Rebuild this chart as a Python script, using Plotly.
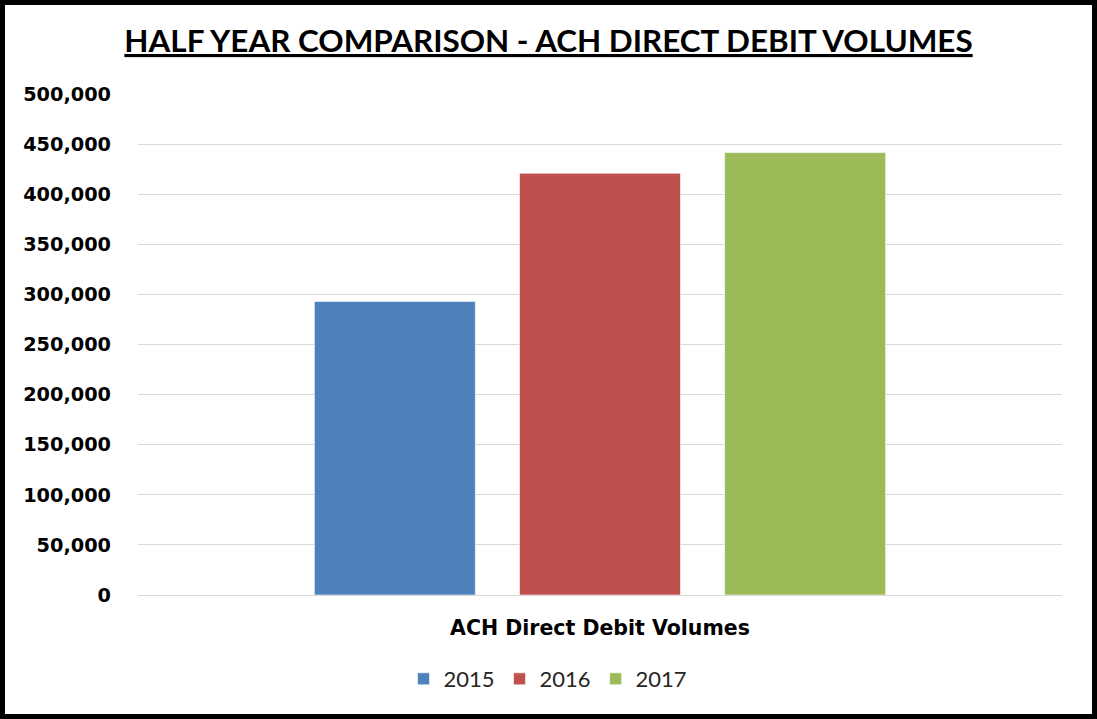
import plotly.graph_objects as go

categories = ["ACH Direct Debit Volumes"]
years = ["2015", "2016", "2017"]
values_2015 = [293000]
values_2016 = [421000]
values_2017 = [441500]
colors = ["#4f81bd", "#c0504d", "#9bbb59"]
y_ticks = [0, 50000, 100000, 150000, 200000, 250000, 300000, 350000, 400000, 450000, 500000]

W, H = 1097, 719
L, R, T, B = 138, 35, 94, 124
pw, ph = W - L - R, H - T - B

fig = go.Figure()
for name, vals, col in zip(years, [values_2015, values_2016, values_2017], colors):
    fig.add_trace(go.Bar(
        x=categories, y=vals, name=name,
        marker=dict(color=col, line=dict(color="rgba(255,255,255,0.6)", width=1)),
    ))

def px_x(p):
    return (p - L) / pw

def px_y(p):
    return (H - B - p) / ph

fig.add_shape(type="rect", xref="paper", yref="paper",
              x0=px_x(2.5), x1=px_x(W - 2.5), y0=px_y(H - 2.5), y1=px_y(2.5),
              line=dict(color="black", width=5), fillcolor="rgba(0,0,0,0)", layer="above")

fig.update_layout(
    width=W, height=H,
    margin=dict(l=L, r=R, t=T, b=B),
    paper_bgcolor="white", plot_bgcolor="white",
    barmode="group", bargap=0.334, bargroupgap=0.215,
    title=dict(text="<u>HALF YEAR COMPARISON - ACH DIRECT DEBIT VOLUMES</u>",
               x=0.5, xref="container", xanchor="center",
               y=1 - 41 / H, yref="container", yanchor="middle",
               font=dict(family="Lato, sans-serif", size=31.4, color="black", weight="bold")),
    yaxis=dict(range=[0, 500000], tickvals=y_ticks, tickformat=",d",
               showgrid=True, gridcolor="#d9d9d9", gridwidth=1,
               zeroline=True, zerolinecolor="#d9d9d9", zerolinewidth=1,
               showline=False, ticks="", ticklabelstandoff=26,
               tickfont=dict(family="DejaVu Sans", size=19.3, color="black", weight="bold")),
    xaxis=dict(showline=False, ticks="", ticklabelstandoff=18,
               tickfont=dict(family="DejaVu Sans", size=20.5, color="black", weight="bold")),
    legend=dict(orientation="h", x=px_x(548), xanchor="center", y=px_y(679), yanchor="middle",
                font=dict(family="Lato", size=22, color="#262626"),
                itemwidth=30, traceorder="normal"),
    showlegend=True,
)

fig.write_html("out.html", config={"displayModeBar": False},
               post_script="document.body.style.margin='0';document.body.style.overflow='hidden';")
